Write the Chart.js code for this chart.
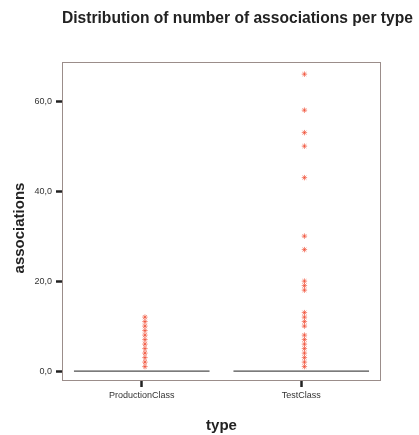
<!DOCTYPE html>
<html>
<head>
<meta charset="utf-8">
<script src="https://cdn.jsdelivr.net/npm/chart.js@4"></script>
<style>
  body { margin: 0; background: #fff; }
  #c { display: block; }
</style>
</head>
<body>
<canvas id="c" width="419" height="435"></canvas>
<script>
// categories and values
var types = ['ProductionClass', 'TestClass'];
var productionVals = [1, 2, 3, 4, 5, 6, 7, 8, 9, 10, 11, 12];
var testVals = [1, 2, 3, 4, 5, 6, 7, 8, 10, 11, 12, 13, 18, 19, 20, 27, 30, 43, 50, 53, 58, 66];
// box stats (median / quartiles are all 0)
var medians = [0, 0];
var yTicks = [0, 20, 40, 60];

var starColor = 'rgba(240,70,45,0.65)';
var boxHalf = 0.425;
var dodge = 0.02; // points sit a hair right of the tick

function pts(vals, xi) {
  return vals.map(function (v) { return { x: xi + 1 + dodge, y: v }; });
}
function medLine(i) {
  return [{ x: i + 1 - boxHalf, y: medians[i] }, { x: i + 1 + boxHalf, y: medians[i] }];
}

var decor = {
  id: 'decor',
  afterDraw: function (chart) {
    var ctx = chart.ctx, a = chart.chartArea;
    ctx.save();
    ctx.strokeStyle = '#9b8d8a';
    ctx.lineWidth = 1;
    ctx.strokeRect(a.left + 0.5, a.top + 0.5, a.right - a.left - 1, a.bottom - a.top - 1);
    ctx.fillStyle = '#222';
    ctx.font = 'bold 15.6px "Liberation Sans", Arial, sans-serif';
    ctx.textBaseline = 'alphabetic';
    ctx.textAlign = 'left';
    ctx.fillText('Distribution of number of associations per type', 62, 23);
    ctx.font = 'bold 15px "Liberation Sans", Arial, sans-serif';
    ctx.textAlign = 'center';
    ctx.textBaseline = 'middle';
    ctx.fillText('type', (a.left + a.right) / 2, 426);
    ctx.translate(20, 228);
    ctx.rotate(-Math.PI / 2);
    ctx.fillText('associations', 0, 0);
    ctx.restore();
  }
};

new Chart(document.getElementById('c'), {
  type: 'scatter',
  data: {
    datasets: [
      { data: medLine(0), showLine: true, borderColor: '#222', borderWidth: 1, pointRadius: 0 },
      { data: medLine(1), showLine: true, borderColor: '#222', borderWidth: 1, pointRadius: 0 },
      { data: pts(productionVals, 0), pointStyle: 'star', radius: 2.7, borderColor: starColor, borderWidth: 1, backgroundColor: starColor },
      { data: pts(testVals, 1), pointStyle: 'star', radius: 2.7, borderColor: starColor, borderWidth: 1, backgroundColor: starColor }
    ]
  },
  options: {
    responsive: false,
    animation: false,
    layout: { padding: { top: 62, right: 38, left: 0, bottom: 0 } },
    plugins: { legend: { display: false }, tooltip: { enabled: false } },
    scales: {
      x: {
        type: 'linear',
        min: 0.5, max: 2.5,
        afterFit: function (s) { s.height = 54; },
        afterBuildTicks: function (s) { s.ticks = types.map(function (t, i) { return { value: i + 1 }; }); },
        ticks: {
          callback: function (v) { return types[v - 1]; },
          color: '#333', font: { size: 9, family: '"Liberation Sans", Arial, sans-serif' },
          padding: 3, maxRotation: 0
        },
        grid: { drawOnChartArea: false, tickLength: 6, tickWidth: 2.5, tickColor: '#222' },
        border: { display: false }
      },
      y: {
        min: -2.2, max: 68.7,
        afterFit: function (s) { s.width = 62; },
        afterBuildTicks: function (s) { s.ticks = yTicks.map(function (v) { return { value: v }; }); },
        ticks: {
          callback: function (v) { return v.toFixed(1).replace('.', ','); },
          color: '#333', font: { size: 9, family: '"Liberation Sans", Arial, sans-serif' },
          padding: 4
        },
        grid: { drawOnChartArea: false, tickLength: 6, tickWidth: 2.5, tickColor: '#222' },
        border: { display: false }
      }
    }
  },
  plugins: [decor]
});
</script>
</body>
</html>
